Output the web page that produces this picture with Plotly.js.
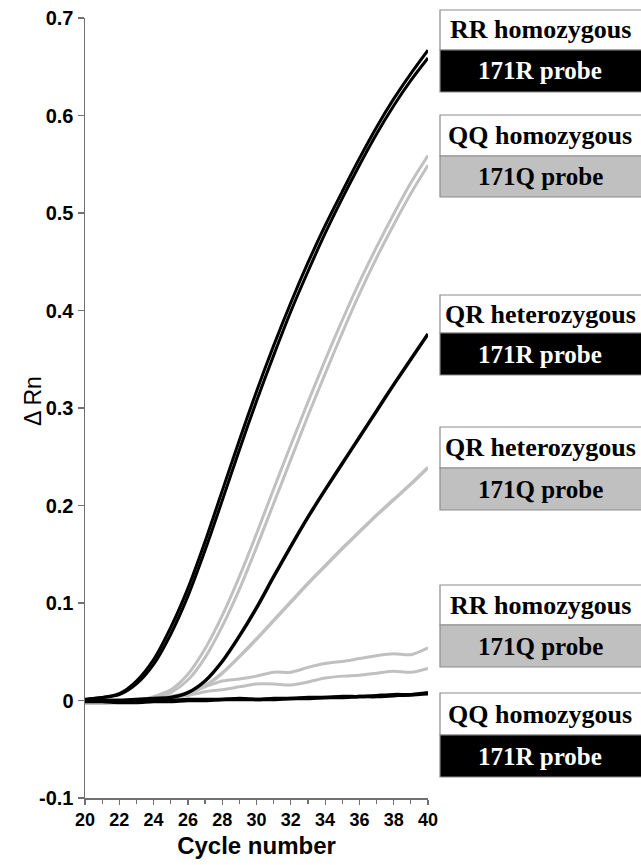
<!DOCTYPE html>
<html>
<head>
<meta charset="utf-8">
<script src="https://cdn.plot.ly/plotly-3.0.1.min.js"></script>
<style>
html,body{margin:0;padding:0;background:#fff;}
#chart{width:641px;height:865px;}
</style>
</head>
<body>
<div id="chart"></div>
<script>
// Cycle numbers
var cycles = [20,21,22,23,24,25,26,27,28,29,30,31,32,33,34,35,36,37,38,39,40];

// RR homozygous, 171R probe (two replicates, black)
var rr171R_a = [0.001,0.003,0.007,0.020,0.042,0.075,0.115,0.163,0.215,0.267,0.317,0.364,0.408,0.449,0.487,0.522,0.556,0.588,0.617,0.643,0.667];
var rr171R_b = [0.001,0.003,0.006,0.017,0.037,0.068,0.107,0.154,0.205,0.257,0.307,0.354,0.399,0.440,0.479,0.515,0.549,0.581,0.610,0.636,0.659];

// QQ homozygous, 171Q probe (two replicates, grey)
var qq171Q_a = [-0.002,-0.002,-0.001,0.000,0.004,0.011,0.027,0.053,0.087,0.127,0.171,0.217,0.262,0.306,0.349,0.390,0.429,0.465,0.499,0.531,0.559];
var qq171Q_b = [-0.003,-0.003,-0.002,-0.001,0.002,0.008,0.021,0.044,0.076,0.114,0.157,0.202,0.247,0.292,0.335,0.377,0.417,0.454,0.488,0.520,0.549];

// QR heterozygous, 171R probe (black)
var qr171R = [0.000,0.000,0.000,0.001,0.002,0.003,0.008,0.020,0.040,0.066,0.095,0.127,0.158,0.188,0.216,0.243,0.270,0.297,0.324,0.350,0.376];

// QR heterozygous, 171Q probe (grey)
var qr171Q = [-0.001,-0.001,0.000,0.001,0.002,0.004,0.008,0.015,0.028,0.045,0.063,0.082,0.101,0.120,0.138,0.156,0.173,0.190,0.206,0.222,0.239];

// RR homozygous, 171Q probe (two replicates, grey)
var rr171Q_a = [-0.002,-0.002,-0.001,0.000,0.001,0.003,0.007,0.014,0.020,0.022,0.025,0.029,0.029,0.034,0.038,0.040,0.043,0.046,0.048,0.047,0.054];
var rr171Q_b = [-0.003,-0.003,-0.002,-0.001,0.000,0.002,0.005,0.009,0.011,0.014,0.017,0.017,0.016,0.019,0.023,0.025,0.026,0.028,0.030,0.029,0.033];

// QQ homozygous, 171R probe (two replicates, black)
var qq171R_a = [0.001,0.000,0.000,-0.001,0.000,0.000,0.001,0.001,0.001,0.002,0.001,0.002,0.002,0.003,0.003,0.004,0.004,0.005,0.006,0.006,0.007];
var qq171R_b = [-0.001,-0.001,-0.002,-0.002,-0.001,-0.001,0.000,0.000,0.001,0.001,0.001,0.001,0.002,0.002,0.003,0.003,0.004,0.004,0.005,0.006,0.008];

// Label boxes: genotype text, probe text, probe colour
var boxGenotype = ["RR homozygous","QQ homozygous","QR heterozygous","QR heterozygous","RR homozygous","QQ homozygous"];
var boxProbe = ["171R probe","171Q probe","171R probe","171Q probe","171Q probe","171R probe"];
var boxIsBlack = [true,false,true,false,false,true];

var xTickVals = [20,22,24,26,28,30,32,34,36,38,40];
var yTickVals = [-0.1,0,0.1,0.2,0.3,0.4,0.5,0.6,0.7];
var yTickText = ["-0.1","0","0.1","0.2","0.3","0.4","0.5","0.6","0.7"];

var BLACK = "#000000", GREY = "#c0c0c0";

function tr(y, color, w){
  return {x: cycles, y: y, type:'scatter', mode:'lines',
          line:{color:color, width:w, shape:'spline', smoothing:0.8},
          hoverinfo:'skip', showlegend:false};
}

var data = [
  tr(rr171Q_b, GREY, 3), tr(rr171Q_a, GREY, 3),
  tr(qr171Q, GREY, 3.5),
  tr(qq171Q_b, GREY, 3), tr(qq171Q_a, GREY, 3),
  tr(qq171R_b, BLACK, 3.5), tr(qq171R_a, BLACK, 3.5),
  tr(qr171R, BLACK, 3.5),
  tr(rr171R_b, BLACK, 3), tr(rr171R_a, BLACK, 3)
];

// Plot area pixel geometry
var W = 641, H = 865, L = 85, R = 213, T = 18, B = 67;
var pw = W - L - R, ph = H - T - B;
function px(x){ return (x - L) / pw; }
function py(y){ return (H - B - y) / ph; }

// Box pixel geometry: top, split, bottom
var boxTops   = [10, 115, 295, 427, 585, 693];
var boxSplits = [50, 156, 333, 468, 625, 735];
var boxBots   = [92, 197, 375, 510, 667, 777];
var boxLeft = 440, boxRight = 660, boxTextX = 540;

var shapes = [], annotations = [];
for (var i = 0; i < boxGenotype.length; i++){
  shapes.push({type:'rect', xref:'paper', yref:'paper', layer:'above',
    x0:px(boxLeft), x1:px(boxRight), y0:py(boxSplits[i]), y1:py(boxTops[i]),
    fillcolor:'#ffffff', line:{color:'#8c8c8c', width:1.2}});
  shapes.push({type:'rect', xref:'paper', yref:'paper', layer:'above',
    x0:px(boxLeft), x1:px(boxRight), y0:py(boxBots[i]), y1:py(boxSplits[i]),
    fillcolor: boxIsBlack[i] ? '#000000' : '#c0c0c0', line:{color:'#8c8c8c', width:1.2}});
  annotations.push({xref:'paper', yref:'paper', x:px(boxTextX), y:py((boxTops[i]+boxSplits[i])/2),
    text:'<b>'+boxGenotype[i]+'</b>', showarrow:false, xanchor:'center', yanchor:'middle',
    font:{family:'Liberation Serif, Times New Roman, serif', size:26, color:'#000'}});
  annotations.push({xref:'paper', yref:'paper', x:px(boxTextX), y:py((boxSplits[i]+boxBots[i])/2),
    text:'<b>'+boxProbe[i]+'</b>', showarrow:false, xanchor:'center', yanchor:'middle',
    font:{family:'Liberation Serif, Times New Roman, serif', size:25, color: boxIsBlack[i] ? '#fff' : '#000'}});
}

// y-axis title placed as a rotated annotation
annotations.push({xref:'paper', yref:'paper', x:px(33), y:py(401), text:'Δ Rn', textangle:-90,
  showarrow:false, xanchor:'center', yanchor:'middle',
  font:{family:'Liberation Sans, Arial, sans-serif', size:23, color:'#000'}});

var layout = {
  width: W, height: H,
  margin: {l:L, r:R, t:T, b:B, pad:0},
  paper_bgcolor:'#fff', plot_bgcolor:'#fff',
  showlegend:false,
  xaxis: {
    range:[20,40], tickmode:'array', tickvals:xTickVals, ticktext:xTickVals.map(String),
    ticks:'outside', ticklen:5, tickwidth:1.2, tickcolor:'#707070',
    minor:{dtick:1, ticks:'outside', ticklen:4, tickwidth:1.2, tickcolor:'#707070', showgrid:false},
    showline:true, linecolor:'#707070', linewidth:1.5, showgrid:false, zeroline:false,
    tickfont:{family:'Arial, Liberation Sans, sans-serif', size:18, color:'#000', weight:700},
    title:{text:'<b>Cycle number</b>', font:{family:'Arial, Liberation Sans, sans-serif', size:24, color:'#000'}, standoff:8}
  },
  yaxis: {
    range:[-0.1,0.7], tickmode:'array', tickvals:yTickVals, ticktext:yTickText,
    ticks:'outside', ticklen:6, tickwidth:1.2, tickcolor:'#707070',
    showline:true, linecolor:'#707070', linewidth:1.5, showgrid:false, zeroline:false,
    tickfont:{family:'Arial, Liberation Sans, sans-serif', size:20, color:'#000', weight:700}
  },
  shapes: shapes,
  annotations: annotations
};

Plotly.newPlot('chart', data, layout, {staticPlot:true, displayModeBar:false});
</script>
</body>
</html>
